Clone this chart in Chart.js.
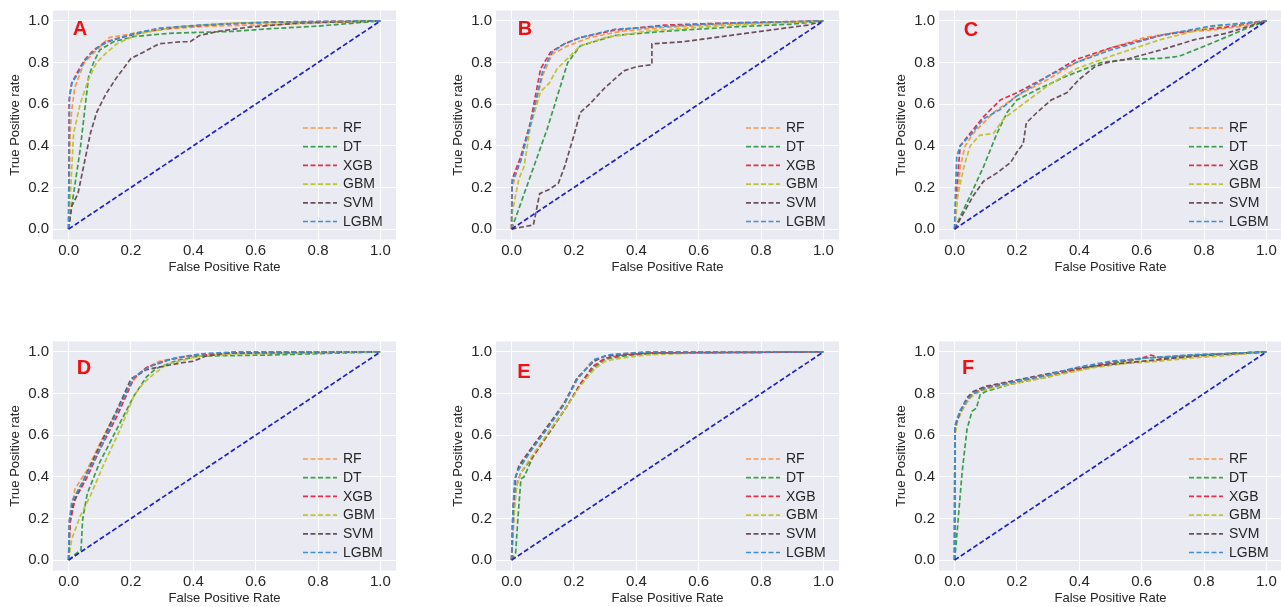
<!DOCTYPE html>
<html>
<head>
<meta charset="utf-8">
<script src="https://cdn.jsdelivr.net/npm/chart.js@4.4.0/dist/chart.umd.min.js"></script>
<style>
  html, body { margin: 0; padding: 0; background: #fff; overflow: hidden; width: 1281px; height: 607px; }
  .panel { position: absolute; width: 420px; height: 290px; }
</style>
</head>
<body>
<div class="panel" style="left:0px;top:0px"><canvas id="cA" width="420" height="290"></canvas></div>
<div class="panel" style="left:443px;top:0px"><canvas id="cB" width="420" height="290"></canvas></div>
<div class="panel" style="left:886px;top:0px"><canvas id="cC" width="420" height="290"></canvas></div>
<div class="panel" style="left:0px;top:331px"><canvas id="cD" width="420" height="290"></canvas></div>
<div class="panel" style="left:443px;top:331px"><canvas id="cE" width="420" height="290"></canvas></div>
<div class="panel" style="left:886px;top:331px"><canvas id="cF" width="420" height="290"></canvas></div>
<script>
const models = ['RF', 'DT', 'XGB', 'GBM', 'SVM', 'LGBM'];
const modelColors = ['#f89a4a', '#3a9e4a', '#e0304a', '#c2c232', '#6e5058', '#3f8fd2'];
const chanceColor = '#2020c8';
const tickValues = [0, 0.2, 0.4, 0.6, 0.8, 1.0];
const tickLabels = ['0.0', '0.2', '0.4', '0.6', '0.8', '1.0'];
const chanceLine = [[0, 0], [1, 1]];

// panel A
const A_RF = [[0,0],[0.005,0.46],[0.01,0.57],[0.02,0.68],[0.05,0.8],[0.09,0.86],[0.13,0.92],[0.21,0.94],[0.3,0.96],[0.45,0.975],[0.6,0.98],[0.8,0.99],[1,1]];
const A_DT = [[0,0],[0.01,0.11],[0.037,0.38],[0.064,0.73],[0.08,0.8],[0.1,0.86],[0.144,0.9],[0.21,0.925],[0.32,0.94],[0.42,0.945],[0.53,0.95],[0.64,0.962],[0.8,0.975],[1,1]];
const A_XGB = [[0,0],[0.002,0.62],[0.01,0.7],[0.027,0.75],[0.05,0.81],[0.08,0.86],[0.12,0.9],[0.17,0.92],[0.25,0.95],[0.35,0.97],[0.5,0.985],[0.7,0.995],[1,1]];
const A_GBM = [[0,0],[0.005,0.14],[0.016,0.46],[0.037,0.6],[0.064,0.72],[0.09,0.8],[0.12,0.845],[0.155,0.89],[0.23,0.94],[0.34,0.97],[0.53,0.99],[1,1]];
const A_SVM = [[0,0],[0.01,0.11],[0.03,0.17],[0.048,0.3],[0.07,0.46],[0.09,0.56],[0.12,0.65],[0.155,0.73],[0.2,0.82],[0.24,0.85],[0.29,0.89],[0.36,0.9],[0.39,0.9],[0.42,0.93],[0.48,0.95],[0.58,0.97],[0.74,0.99],[1,1]];
const A_LGBM = [[0,0],[0.003,0.64],[0.01,0.7],[0.027,0.74],[0.048,0.8],[0.07,0.84],[0.1,0.88],[0.144,0.91],[0.21,0.94],[0.29,0.965],[0.42,0.98],[0.64,0.995],[1,1]];

// panel B
const B_RF = [[0,0],[0.002,0.2],[0.034,0.37],[0.07,0.56],[0.1,0.74],[0.13,0.84],[0.18,0.88],[0.25,0.92],[0.35,0.95],[0.5,0.97],[0.7,0.985],[1,1]];
const B_DT = [[0,0],[0.114,0.48],[0.18,0.8],[0.22,0.88],[0.33,0.93],[0.49,0.95],[0.7,0.97],[0.9,0.985],[1,1]];
const B_XGB = [[0,0],[0.002,0.24],[0.03,0.35],[0.06,0.51],[0.093,0.77],[0.125,0.85],[0.17,0.89],[0.22,0.92],[0.33,0.955],[0.49,0.98],[0.7,0.99],[1,1]];
const B_GBM = [[0,0],[0.002,0.08],[0.023,0.24],[0.04,0.3],[0.06,0.49],[0.093,0.66],[0.12,0.7],[0.146,0.77],[0.18,0.82],[0.22,0.88],[0.3,0.92],[0.43,0.95],[0.65,0.975],[1,1]];
const B_SVM = [[0,0],[0.07,0.02],[0.09,0.17],[0.12,0.19],[0.15,0.22],[0.17,0.3],[0.2,0.45],[0.22,0.56],[0.25,0.6],[0.3,0.68],[0.33,0.72],[0.36,0.76],[0.4,0.78],[0.45,0.79],[0.45,0.89],[0.55,0.9],[0.65,0.92],[0.75,0.94],[0.85,0.96],[0.95,0.98],[1,1]];
const B_LGBM = [[0,0],[0.001,0.22],[0.03,0.33],[0.06,0.5],[0.1,0.76],[0.13,0.85],[0.17,0.89],[0.22,0.92],[0.33,0.96],[0.5,0.975],[0.7,0.99],[1,1]];

// panel C
const C_RF = [[0,0],[0.007,0.11],[0.018,0.3],[0.034,0.4],[0.06,0.46],[0.125,0.56],[0.2,0.64],[0.3,0.72],[0.39,0.8],[0.5,0.87],[0.61,0.92],[0.71,0.945],[0.82,0.955],[0.93,0.975],[1,1]];
const C_DT = [[0,0],[0.018,0.06],[0.05,0.16],[0.093,0.3],[0.136,0.46],[0.168,0.56],[0.2,0.62],[0.264,0.67],[0.36,0.735],[0.47,0.8],[0.55,0.815],[0.66,0.82],[0.72,0.83],[0.82,0.89],[0.93,0.96],[1,1]];
const C_XGB = [[0,0],[0.007,0.2],[0.018,0.4],[0.05,0.46],[0.093,0.54],[0.147,0.62],[0.2,0.655],[0.3,0.735],[0.39,0.815],[0.5,0.87],[0.66,0.93],[0.77,0.955],[0.87,0.97],[1,1]];
const C_GBM = [[0,0],[0.007,0.14],[0.03,0.3],[0.05,0.4],[0.08,0.45],[0.125,0.46],[0.157,0.53],[0.21,0.59],[0.3,0.69],[0.39,0.77],[0.5,0.83],[0.66,0.91],[0.82,0.97],[1,1]];
const C_SVM = [[0,0],[0.03,0.08],[0.06,0.16],[0.093,0.23],[0.136,0.27],[0.18,0.32],[0.2,0.37],[0.22,0.41],[0.23,0.51],[0.264,0.56],[0.31,0.62],[0.36,0.655],[0.4,0.72],[0.45,0.78],[0.49,0.8],[0.55,0.815],[0.66,0.86],[0.77,0.91],[0.87,0.94],[1,1]];
const C_LGBM = [[0,0],[0.003,0.2],[0.007,0.35],[0.018,0.4],[0.05,0.45],[0.093,0.53],[0.147,0.575],[0.2,0.64],[0.3,0.735],[0.39,0.8],[0.5,0.86],[0.66,0.93],[0.82,0.975],[1,1]];

// panel D
const D_RF = [[0,0],[0.005,0.2],[0.02,0.34],[0.06,0.435],[0.1,0.56],[0.155,0.72],[0.2,0.85],[0.24,0.915],[0.29,0.955],[0.38,0.98],[0.53,0.995],[1,1]];
const D_DT = [[0,0],[0.027,0.035],[0.04,0.05],[0.045,0.195],[0.06,0.32],[0.1,0.47],[0.155,0.63],[0.21,0.79],[0.25,0.88],[0.28,0.92],[0.35,0.96],[0.42,0.98],[0.64,0.985],[1,1]];
const D_XGB = [[0,0],[0.005,0.18],[0.02,0.29],[0.06,0.4],[0.1,0.53],[0.155,0.69],[0.21,0.875],[0.25,0.925],[0.315,0.96],[0.38,0.98],[0.53,0.995],[1,1]];
const D_GBM = [[0,0],[0.01,0.1],[0.037,0.21],[0.07,0.31],[0.11,0.45],[0.166,0.63],[0.21,0.79],[0.24,0.85],[0.27,0.89],[0.315,0.94],[0.42,0.98],[0.53,0.99],[1,1]];
const D_SVM = [[0,0],[0.003,0.195],[0.016,0.275],[0.05,0.39],[0.1,0.55],[0.155,0.72],[0.2,0.87],[0.25,0.915],[0.3,0.93],[0.36,0.947],[0.4,0.955],[0.44,0.98],[0.51,0.995],[1,1]];
const D_LGBM = [[0,0],[0.002,0.18],[0.01,0.28],[0.05,0.39],[0.1,0.53],[0.155,0.71],[0.21,0.88],[0.26,0.93],[0.34,0.97],[0.42,0.99],[0.53,1],[1,1]];

// panel E
const E_RF = [[0,0],[0.005,0.195],[0.013,0.4],[0.03,0.47],[0.06,0.53],[0.114,0.64],[0.168,0.755],[0.21,0.867],[0.253,0.947],[0.296,0.98],[0.38,0.995],[0.49,1],[1,1]];
const E_DT = [[0,0],[0.013,0.035],[0.02,0.195],[0.03,0.39],[0.04,0.4],[0.07,0.5],[0.125,0.62],[0.178,0.74],[0.22,0.845],[0.264,0.925],[0.3,0.965],[0.38,0.985],[0.49,0.995],[1,1]];
const E_XGB = [[0,0],[0.01,0.3],[0.02,0.38],[0.03,0.42],[0.07,0.5],[0.125,0.625],[0.178,0.74],[0.22,0.845],[0.26,0.93],[0.3,0.97],[0.36,0.985],[0.45,0.995],[1,1]];
const E_GBM = [[0,0],[0.007,0.195],[0.016,0.355],[0.03,0.42],[0.07,0.51],[0.125,0.63],[0.178,0.74],[0.22,0.835],[0.264,0.915],[0.3,0.955],[0.35,0.97],[0.43,0.985],[0.59,0.995],[1,1]];
const E_SVM = [[0,0],[0.005,0.26],[0.013,0.4],[0.023,0.45],[0.06,0.53],[0.114,0.64],[0.168,0.75],[0.21,0.875],[0.264,0.955],[0.3,0.98],[0.43,0.995],[1,1]];
const E_LGBM = [[0,0],[0.002,0.16],[0.01,0.39],[0.023,0.435],[0.06,0.52],[0.114,0.63],[0.168,0.745],[0.21,0.867],[0.264,0.963],[0.317,0.987],[0.43,1],[1,1]];

// panel F
const F_RF = [[0,0],[0.001,0.62],[0.01,0.68],[0.03,0.75],[0.05,0.79],[0.08,0.82],[0.15,0.84],[0.25,0.87],[0.35,0.9],[0.45,0.93],[0.55,0.95],[0.65,0.96],[0.75,0.975],[0.85,0.985],[1,1]];
const F_DT = [[0,0],[0.007,0.115],[0.024,0.42],[0.04,0.63],[0.056,0.715],[0.07,0.73],[0.082,0.795],[0.1,0.81],[0.18,0.845],[0.3,0.88],[0.39,0.915],[0.5,0.945],[0.61,0.97],[0.77,0.985],[1,1]];
const F_XGB = [[0,0],[0.001,0.63],[0.01,0.68],[0.02,0.71],[0.04,0.76],[0.06,0.8],[0.1,0.83],[0.2,0.86],[0.3,0.89],[0.4,0.92],[0.5,0.95],[0.6,0.97],[0.63,0.985],[0.66,0.97],[0.8,0.985],[1,1]];
const F_GBM = [[0,0],[0.001,0.6],[0.01,0.67],[0.03,0.74],[0.05,0.78],[0.08,0.81],[0.15,0.835],[0.25,0.865],[0.35,0.895],[0.45,0.925],[0.55,0.945],[0.65,0.955],[0.75,0.97],[0.85,0.98],[1,1]];
const F_SVM = [[0,0],[0.001,0.64],[0.01,0.68],[0.02,0.72],[0.04,0.78],[0.06,0.81],[0.1,0.835],[0.2,0.865],[0.3,0.895],[0.4,0.925],[0.5,0.94],[0.6,0.955],[0.7,0.97],[0.8,0.985],[1,1]];
const F_LGBM = [[0,0],[0.001,0.645],[0.007,0.675],[0.018,0.72],[0.04,0.77],[0.06,0.8],[0.1,0.825],[0.2,0.86],[0.3,0.89],[0.39,0.925],[0.5,0.955],[0.61,0.97],[0.77,0.987],[1,1]];

const panels = [
    { id: 'cA', letter: 'A', curves: [A_RF, A_DT, A_XGB, A_GBM, A_SVM, A_LGBM], letterAt: [27, 19] },
    { id: 'cB', letter: 'B', curves: [B_RF, B_DT, B_XGB, B_GBM, B_SVM, B_LGBM], letterAt: [29, 19] },
    { id: 'cC', letter: 'C', curves: [C_RF, C_DT, C_XGB, C_GBM, C_SVM, C_LGBM], letterAt: [32, 20] },
    { id: 'cD', letter: 'D', curves: [D_RF, D_DT, D_XGB, D_GBM, D_SVM, D_LGBM], letterAt: [31, 27] },
    { id: 'cE', letter: 'E', curves: [E_RF, E_DT, E_XGB, E_GBM, E_SVM, E_LGBM], letterAt: [28, 31] },
    { id: 'cF', letter: 'F', curves: [F_RF, F_DT, F_XGB, F_GBM, F_SVM, F_LGBM], letterAt: [29, 27] }
];

const FONT = "'Liberation Sans', Arial, sans-serif";
const textColor = '#262626';

// gray seaborn-style background behind the plot area
const bgPlugin = {
    id: 'bg',
    beforeDraw(chart) {
        const { ctx, chartArea: a } = chart;
        ctx.save();
        ctx.fillStyle = '#eaeaf2';
        ctx.fillRect(a.left, a.top, a.right - a.left, a.bottom - a.top);
        ctx.restore();
    }
};

// legend in the lower right corner + panel letter
const legendPlugin = {
    id: 'roclegend',
    afterDraw(chart, args, opts) {
        const { ctx, chartArea: a } = chart;
        ctx.save();
        ctx.font = '14px ' + FONT;
        ctx.textBaseline = 'middle';
        ctx.textAlign = 'left';
        models.forEach((m, i) => {
            const y = a.top + 117.5 + i * 18.7;
            ctx.strokeStyle = modelColors[i];
            ctx.lineWidth = 1.7;
            ctx.setLineDash([5, 2.5]);
            ctx.beginPath();
            ctx.moveTo(a.right - 93, y);
            ctx.lineTo(a.right - 59, y);
            ctx.stroke();
            ctx.fillStyle = textColor;
            ctx.fillText(m, a.right - 53, y + 0.5);
        });
        ctx.setLineDash([]);
        ctx.font = 'bold 20px ' + FONT;
        ctx.fillStyle = '#ee1111';
        ctx.textAlign = 'center';
        ctx.fillText(opts.letter, a.left + opts.at[0], a.top + opts.at[1]);
        ctx.restore();
    }
};

function createChart(p) {
    const datasets = p.curves.map((c, i) => ({
        label: models[i],
        data: c.map(pt => ({ x: pt[0], y: pt[1] })),
        borderColor: modelColors[i],
        borderWidth: 1.7,
        borderDash: [5, 2.5],
        pointRadius: 0,
        tension: 0,
        fill: false,
        order: 20 - i
    }));
    // chance diagonal drawn on top
    datasets.push({
        label: 'chance',
        data: chanceLine.map(pt => ({ x: pt[0], y: pt[1] })),
        borderColor: chanceColor,
        borderWidth: 1.7,
        borderDash: [5, 2.5],
        pointRadius: 0,
        fill: false,
        order: 0
    });

    const axis = (title, isX) => ({
        type: 'linear',
        min: -0.05,
        max: 1.05,
        afterBuildTicks: s => { s.ticks = tickValues.map(v => ({ value: v })); },
        afterFit: s => {
            if (isX) { s.height = 50.5; s.paddingLeft = 0; s.paddingRight = 0; }
            else { s.width = 53; s.paddingTop = 0; s.paddingBottom = 0; }
        },
        ticks: {
            callback: (v) => tickLabels[tickValues.indexOf(v)] ?? v.toFixed(1),
            font: { family: FONT, size: 15 },
            color: textColor,
            padding: isX ? 2 : 4,
            maxRotation: 0,
            autoSkip: false
        },
        grid: { color: '#ffffff', lineWidth: 1, drawTicks: false },
        border: { display: false },
        title: {
            display: true,
            text: title,
            font: { family: FONT, size: 13 },
            color: textColor,
            padding: isX ? { top: 0, bottom: 15 } : { top: 8, bottom: 0 }
        }
    });

    new Chart(document.getElementById(p.id), {
        type: 'line',
        data: { datasets },
        options: {
            responsive: false,
            animation: false,
            devicePixelRatio: 1,
            layout: { padding: { top: 10.5, right: 24, left: 0, bottom: 0 } },
            scales: {
                x: axis('False Positive Rate', true),
                y: axis('True Positive rate', false)
            },
            plugins: {
                legend: { display: false },
                tooltip: { enabled: false },
                roclegend: { letter: p.letter, at: p.letterAt }
            }
        },
        plugins: [bgPlugin, legendPlugin]
    });
}

panels.forEach(createChart);
</script>
</body>
</html>
